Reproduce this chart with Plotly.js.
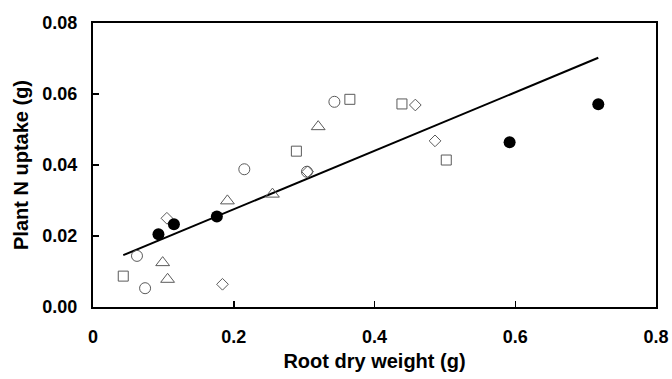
<!DOCTYPE html>
<html>
<head>
<meta charset="utf-8">
<script src="https://cdn.plot.ly/plotly-3.0.1.min.js"></script>
<style>html,body{margin:0;padding:0;background:#fff;}#chart{width:672px;height:379px;}</style>
</head>
<body>
<div id="chart"></div>
<script>
// Filled circles
const filledX = [0.093, 0.115, 0.176, 0.592, 0.718];
const filledY = [0.0205, 0.0233, 0.0255, 0.0464, 0.0571];
// Open circles
const circleX = [0.0625, 0.074, 0.215, 0.304, 0.343];
const circleY = [0.0144, 0.0053, 0.0388, 0.0381, 0.0578];
// Open squares
const squareX = [0.043, 0.289, 0.365, 0.439, 0.502];
const squareY = [0.0087, 0.0439, 0.0585, 0.0572, 0.0414];
// Open triangles
const triX = [0.099, 0.106, 0.191, 0.255, 0.320];
const triY = [0.0125, 0.0078, 0.0299, 0.0318, 0.0508];
// Open diamonds
const diaX = [0.105, 0.184, 0.305, 0.458, 0.486];
const diaY = [0.0250, 0.0064, 0.0381, 0.0569, 0.0468];
// Regression line endpoints
const fitX = [0.043, 0.718];
const fitY = [0.0146, 0.0702];

const xTicks = [0, 0.2, 0.4, 0.6, 0.8];
const xTickText = ['0', '0.2', '0.4', '0.6', '0.8'];
const yTicks = [0, 0.02, 0.04, 0.06, 0.08];
const yTickText = ['0.00', '0.02', '0.04', '0.06', '0.08'];

const gray = '#5a5a5a';
const openMarker = (sym, size) => ({symbol: sym, size: size, color: gray, line: {color: gray, width: 1}});

const traces = [
  {x: fitX, y: fitY, mode: 'lines', line: {color: '#000', width: 2}, hoverinfo: 'skip'},
  {x: circleX, y: circleY, mode: 'markers', marker: openMarker('circle-open', 11)},
  {x: squareX, y: squareY, mode: 'markers', marker: openMarker('square-open', 10)},
  {x: triX, y: triY, mode: 'markers', marker: openMarker('triangle-up-open', 12)},
  {x: diaX, y: diaY, mode: 'markers', marker: openMarker('diamond-open', 9)},
  {x: filledX, y: filledY, mode: 'markers', marker: {symbol: 'circle', size: 12, color: '#000'}}
];

const fam = 'Liberation Sans, Arial, sans-serif';
const layout = {
  width: 672, height: 379,
  margin: {l: 93, r: 16, t: 23, b: 72},
  paper_bgcolor: '#fff', plot_bgcolor: '#fff',
  showlegend: false,
  font: {family: fam, size: 18, color: '#000'},
  xaxis: {
    range: [0, 0.8], tickvals: xTicks, ticktext: xTickText,
    ticks: 'inside', ticklen: 6, tickwidth: 1.5, tickcolor: '#000',
    showline: true, linecolor: '#000', linewidth: 2, mirror: true,
    showgrid: false, zeroline: false,
    tickfont: {family: fam, size: 18, color: '#000', weight: 'bold'},
    ticklabelstandoff: 12,
    title: {text: 'Root dry weight (g)', font: {family: fam, size: 20, color: '#000', weight: 'bold'}, standoff: 8}
  },
  yaxis: {
    range: [0, 0.08], tickvals: yTicks, ticktext: yTickText,
    ticks: 'inside', ticklen: 6, tickwidth: 1.5, tickcolor: '#000',
    showline: true, linecolor: '#000', linewidth: 2, mirror: true,
    showgrid: false, zeroline: false,
    tickfont: {family: fam, size: 18, color: '#000', weight: 'bold'},
    ticklabelstandoff: 10,
    title: {text: 'Plant N uptake (g)', font: {family: fam, size: 20, color: '#000', weight: 'bold'}, standoff: 8}
  }
};

Plotly.newPlot('chart', traces, layout, {displayModeBar: false, staticPlot: true});
</script>
</body>
</html>
